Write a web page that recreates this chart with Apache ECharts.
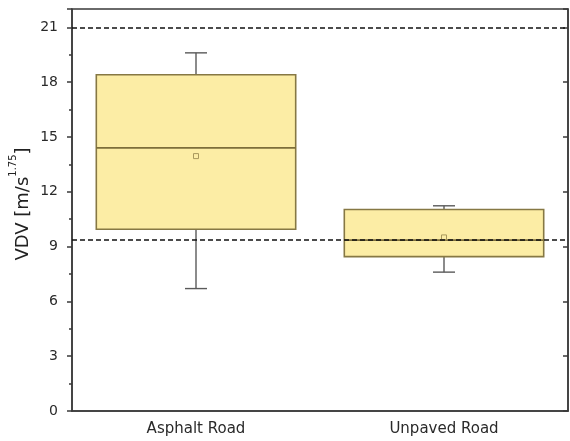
<!DOCTYPE html>
<html>
<head>
<meta charset="utf-8">
<script src="https://cdn.jsdelivr.net/npm/echarts@6/dist/echarts.min.js"></script>
<style>html,body{margin:0;padding:0;background:#fff}#c{width:570px;height:441px}</style>
</head>
<body>
<div id="c"></div>
<script>
var categories = ['Asphalt Road', 'Unpaved Road'];
var whiskerLow = [6.7, 7.6];
var q1 = [9.95, 8.45];
var median = [14.4, 9.35];
var q3 = [18.4, 11.03];
var whiskerHigh = [19.6, 11.23];
var means = [13.95, 9.5];
var refLines = [21, 9.35];
var yTicks = [0, 3, 6, 9, 12, 15, 18, 21];

var boxData = categories.map(function (c, i) {
  return [i, whiskerLow[i], q1[i], median[i], q3[i], whiskerHigh[i], means[i]];
});

var chart = echarts.init(document.getElementById('c'));
var axisColor = '#3a3a3a';
var font = 'DejaVu Sans';
chart.setOption({
  animation: false,
  backgroundColor: '#fff',
  grid: { left: 72, right: 2, top: 9, bottom: 30, show: true, borderColor: axisColor, borderWidth: 1.5,
    backgroundColor: 'transparent', containLabel: false, outerBoundsMode: 'none' },
  xAxis: {
    type: 'category',
    data: categories,
    boundaryGap: true,
    axisLine: { lineStyle: { color: axisColor, width: 1.5 } },
    axisTick: { alignWithLabel: true, length: 5, lineStyle: { color: axisColor, width: 1.5 } },
    axisLabel: { color: '#2a2a2a', fontSize: 15, fontFamily: font, margin: 11 },
    splitLine: { show: false }
  },
  yAxis: [{
    type: 'value', min: 0, max: 22, interval: 3,
    axisLine: { show: true, lineStyle: { color: axisColor, width: 1.5 } },
    axisTick: { show: true, length: 5, lineStyle: { color: axisColor, width: 1.5 } },
    minorTick: { show: true, splitNumber: 2, length: 3, lineStyle: { color: axisColor, width: 1.5 } },
    axisLabel: { color: '#2a2a2a', fontSize: 14, fontFamily: font, margin: 14, showMaxLabel: false,
      formatter: function (v) { return yTicks.indexOf(v) >= 0 ? String(v) : ''; } },
    splitLine: { show: false },
    name: '{a|VDV [m/s}{s|1.75}{a|]}',
    nameLocation: 'middle',
    nameGap: 40,
    nameMoveOverlap: false,
    nameRotate: 90,
    nameTextStyle: {
      padding: [0, 0, 0, 12],
      rich: {
        a: { fontSize: 18, color: '#222', fontFamily: font, lineHeight: 24, verticalAlign: 'bottom' },
        s: { fontSize: 10, color: '#222', fontFamily: font, lineHeight: 24, verticalAlign: 'top', padding: [0, 0, 9, 0] }
      }
    }
  }, {
    type: 'value', min: 0, max: 22, interval: 3, position: 'right',
    axisLine: { show: true, lineStyle: { color: axisColor, width: 1.5 } },
    axisTick: { show: true, inside: true, length: 5, lineStyle: { color: axisColor, width: 1.5 } },
    axisLabel: { show: false },
    splitLine: { show: false }
  }],
  series: [{
    type: 'custom',
    data: boxData,
    encode: { x: 0, y: [1, 2, 3, 4, 5] },
    z: 2,
    renderItem: function (params, api) {
      var x = api.value(0);
      var band = api.size([1, 0])[0];
      var hw = band * 0.402;
      var cw = 11;
      var pLo = api.coord([x, api.value(1)]);
      var pQ1 = api.coord([x, api.value(2)]);
      var pMed = api.coord([x, api.value(3)]);
      var pQ3 = api.coord([x, api.value(4)]);
      var pHi = api.coord([x, api.value(5)]);
      var pMean = api.coord([x, api.value(6)]);
      var cx = pQ1[0];
      var wStyle = { stroke: '#5a5a5a', lineWidth: 1.4 };
      return {
        type: 'group',
        children: [
          { type: 'line', shape: { x1: cx, y1: pQ3[1], x2: cx, y2: pHi[1] }, style: wStyle },
          { type: 'line', shape: { x1: cx - cw, y1: pHi[1], x2: cx + cw, y2: pHi[1] }, style: wStyle },
          { type: 'line', shape: { x1: cx, y1: pQ1[1], x2: cx, y2: pLo[1] }, style: wStyle },
          { type: 'line', shape: { x1: cx - cw, y1: pLo[1], x2: cx + cw, y2: pLo[1] }, style: wStyle },
          { type: 'rect', shape: { x: cx - hw, y: pQ3[1], width: 2 * hw, height: pQ1[1] - pQ3[1] },
            style: { fill: '#FCEDA5', stroke: '#867844', lineWidth: 1.6 } },
          { type: 'line', shape: { x1: cx - hw, y1: pMed[1], x2: cx + hw, y2: pMed[1] }, style: { stroke: '#7d6e3a', lineWidth: 1.6 } },
          { type: 'rect', shape: { x: pMean[0] - 2.5, y: pMean[1] - 2.5, width: 5, height: 5 },
            style: { fill: 'transparent', stroke: '#a8985c', lineWidth: 1 } }
        ]
      };
    }
  }, {
    type: 'line',
    data: [],
    z: 5,
    markLine: {
      silent: true,
      symbol: 'none',
      label: { show: false },
      lineStyle: { color: '#111', type: [5, 3], width: 1.6 },
      data: refLines.map(function (v) { return { yAxis: v }; })
    }
  }]
});
</script>
</body>
</html>
